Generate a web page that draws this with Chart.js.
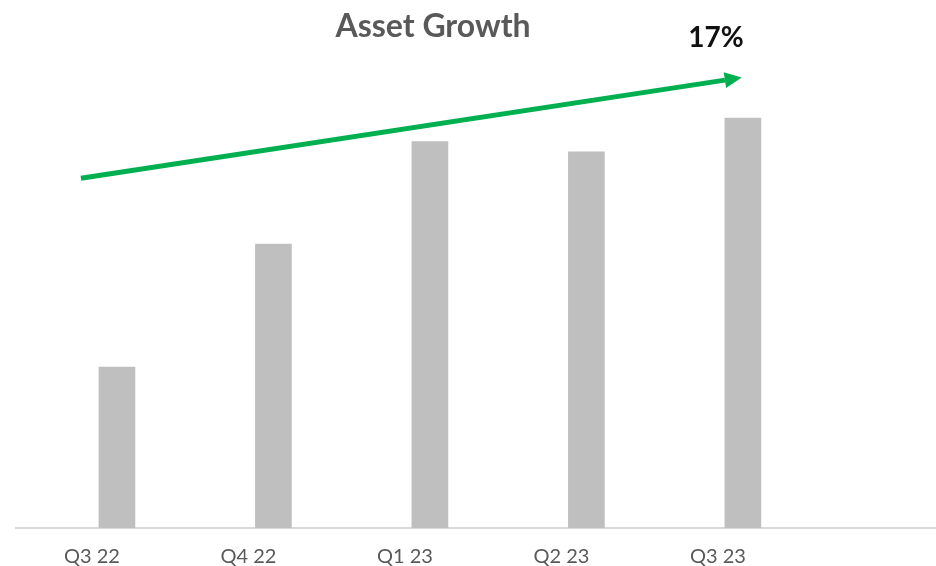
<!DOCTYPE html>
<html>
<head>
<meta charset="utf-8">
<title>Asset Growth</title>
<script src="https://cdn.jsdelivr.net/npm/chart.js@4.4.1/dist/chart.umd.min.js"></script>
<style>
  html, body { margin: 0; padding: 0; background: #fff; }
  #wrap { width: 936px; height: 566px; }
</style>
</head>
<body>
<div id="wrap"><canvas id="assetChart" width="936" height="566"></canvas></div>
<script>
// quarters and total assets (indexed, Q3 22 = 100)
const quarters = ['Q3 22', 'Q4 22', 'Q1 23', 'Q2 23', 'Q3 23'];
const assets = [100, 108.4, 115.4, 114.7, 117.0];

// trend arrow, in axis units (x = quarter index)
const arrowX = [-0.23, 3.885];
const arrowY = [112.9, 119.6];

const chartTitle = 'Asset Growth';
const growthLabel = '17%';

const GREEN = '#00b050';

// arrow head at the end of the trend line + the text labels
const annotations = {
    id: 'annotations',
    afterDatasetsDraw(chart) {
        const ctx = chart.ctx;
        const pts = chart.getDatasetMeta(1).data;
        const p0 = pts[0], p1 = pts[pts.length - 1];
        const a = Math.atan2(p1.y - p0.y, p1.x - p0.x);
        const len = 17, half = 8;
        ctx.save();
        ctx.fillStyle = GREEN;
        ctx.beginPath();
        ctx.moveTo(p1.x + Math.cos(a) * len, p1.y + Math.sin(a) * len);
        ctx.lineTo(p1.x - Math.sin(a) * half, p1.y + Math.cos(a) * half);
        ctx.lineTo(p1.x + Math.sin(a) * half, p1.y - Math.cos(a) * half);
        ctx.closePath();
        ctx.fill();

        ctx.textAlign = 'center';
        ctx.textBaseline = 'alphabetic';
        ctx.fillStyle = '#595959';
        ctx.font = 'bold 32px Lato';
        ctx.fillText(chartTitle, 433, 37);
        ctx.fillStyle = '#111';
        ctx.font = 'bold 28px Lato';
        ctx.fillText(growthLabel, 716, 47);
        ctx.restore();
    }
};

new Chart(document.getElementById('assetChart'), {
    type: 'bar',
    data: {
        datasets: [{
            type: 'bar',
            data: assets.map((v, i) => ({ x: i, y: v })),
            backgroundColor: '#bfbfbf',
            barThickness: 36
        }, {
            type: 'line',
            data: arrowX.map((x, i) => ({ x: x, y: arrowY[i] })),
            borderColor: GREEN,
            borderWidth: 5,
            pointRadius: 0,
            fill: false
        }]
    },
    options: {
        responsive: false,
        animation: false,
        layout: { padding: { left: 16, right: 0, top: 45, bottom: 0 } },
        plugins: {
            legend: { display: false },
            tooltip: { enabled: false },
            title: { display: false }
        },
        scales: {
            x: {
                type: 'linear',
                offset: false,
                min: -0.645,
                max: 5.234,
                grid: { display: false, drawTicks: false, offset: false },
                border: { display: true, color: '#d9d9d9', width: 2 },
                afterBuildTicks: s => { s.ticks = quarters.map((q, i) => ({ value: i })); },
                afterFit: s => { s.height = 38; },
                ticks: {
                    autoSkip: false,
                    maxRotation: 0,
                    padding: 19,
                    labelOffset: -25,
                    color: '#595959',
                    font: { family: 'Lato', size: 20, lineHeight: 1 },
                    callback: v => quarters[v] ?? ''
                }
            },
            y: {
                display: false,
                min: 89,
                max: 122
            }
        }
    },
    plugins: [annotations]
});
</script>
</body>
</html>
